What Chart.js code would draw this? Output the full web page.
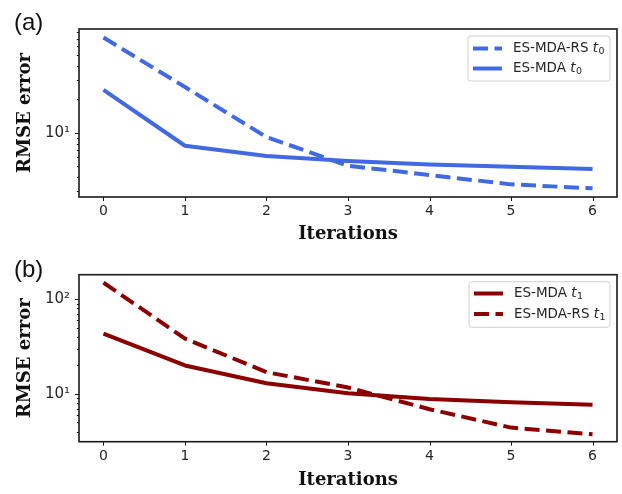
<!DOCTYPE html>
<html>
<head>
<meta charset="utf-8">
<script src="https://cdn.jsdelivr.net/npm/chart.js@4/dist/chart.umd.min.js"></script>
<style>
  html, body { margin: 0; padding: 0; background: #ffffff; }
  #wrap { position: relative; width: 622px; height: 494px; }
  #wrap canvas { position: absolute; left: 0; }
</style>
</head>
<body>
<div id="wrap">
  <canvas id="panelA" width="622" height="247" style="top:0px"></canvas>
  <canvas id="panelB" width="622" height="247" style="top:247px"></canvas>
</div>
<script>
// Iteration index shared by both panels
const iterations = [0, 1, 2, 3, 4, 5, 6];
const xTickValues = [0, 1, 2, 3, 4, 5, 6];

// Panel (a): RMSE at t0
const rmseRsT0  = [72.0, 25.8, 9.15, 5.05, 4.16, 3.43, 3.16];
const rmseMdaT0 = [24.3, 7.64, 6.17, 5.56, 5.19, 4.94, 4.71];

// Panel (b): RMSE at t1
const rmseMdaT1 = [43.5, 20.0, 13.0, 10.2, 8.85, 8.16, 7.70];
const rmseRsT1  = [150, 38.5, 17.0, 11.7, 6.90, 4.41, 3.75];

// Labelled decades on the log axes
const yMajorValues = [10, 100];
const yMajorLabels = ['10¹', '10²'];

const BLUE = '#4169e1';
const DARKRED = '#8b0000';
const DASH = [15, 6.5];

Chart.defaults.font.family = '"DejaVu Sans", sans-serif';
Chart.defaults.color = '#262626';

const toPoints = ys => iterations.map((x, i) => ({ x: x, y: ys[i] }));

function logTicksBetween(min, max) {
  const out = [];
  for (let e = Math.floor(Math.log10(min)); e <= Math.ceil(Math.log10(max)); e++) {
    for (let m = 1; m <= 9; m++) {
      const v = m * Math.pow(10, e);
      if (v >= min && v <= max) out.push(v);
    }
  }
  return out;
}

function isMajor(v) {
  return yMajorValues.some(m => Math.abs(m - v) < 1e-9);
}

// Frame, tick marks, legend box and panel tag
const decorations = {
  id: 'decorations',
  afterDraw(chart, args, opts) {
    const { ctx, chartArea: a } = chart;
    const xs = chart.scales.x, ys = chart.scales.y;
    ctx.save();
    ctx.strokeStyle = '#1a1a1a';
    ctx.lineWidth = 1;
    ctx.setLineDash([]);
    ctx.beginPath();
    xs.ticks.forEach(t => {
      const px = Math.round(xs.getPixelForValue(t.value)) + 0.5;
      ctx.moveTo(px, a.bottom);
      ctx.lineTo(px, a.bottom + 4);
    });
    ys.ticks.forEach(t => {
      const py = Math.round(ys.getPixelForValue(t.value)) + 0.5;
      const len = isMajor(t.value) ? 4 : 2.2;
      ctx.moveTo(a.left - len, py);
      ctx.lineTo(a.left, py);
    });
    ctx.stroke();

    ctx.lineWidth = 1.6;
    ctx.strokeRect(a.left, a.top, a.right - a.left, a.bottom - a.top);

    // legend
    const L = opts.legend;
    ctx.beginPath();
    ctx.roundRect(L.x, L.y, L.w, L.h, 3);
    ctx.fillStyle = 'rgba(255,255,255,0.85)';
    ctx.fill();
    ctx.strokeStyle = '#d0d0d0';
    ctx.lineWidth = 1;
    ctx.stroke();
    L.items.forEach((item, i) => {
      const ds = chart.data.datasets[item.dataset];
      const cy = L.y + L.firstRow + i * L.rowGap;
      ctx.beginPath();
      ctx.strokeStyle = ds.borderColor;
      ctx.lineWidth = 4;
      ctx.lineCap = 'butt';
      ctx.setLineDash(ds.borderDash || []);
      ctx.moveTo(L.x + 5, cy);
      ctx.lineTo(L.x + 34, cy);
      ctx.stroke();
      ctx.setLineDash([]);

      let tx = L.x + 45;
      ctx.fillStyle = '#262626';
      ctx.textBaseline = 'middle';
      ctx.textAlign = 'left';
      ctx.font = '13.5px "DejaVu Sans"';
      ctx.fillText(item.text, tx, cy);
      tx += ctx.measureText(item.text).width;
      ctx.font = 'italic 13.5px "DejaVu Sans"';
      ctx.fillText('t', tx, cy);
      tx += ctx.measureText('t').width;
      ctx.font = '9.5px "DejaVu Sans"';
      ctx.fillText(item.sub, tx + 0.5, cy + 3.5);
    });

    // panel tag
    ctx.fillStyle = '#111111';
    ctx.font = '24px "Liberation Sans", Arial, sans-serif';
    ctx.textBaseline = 'middle';
    ctx.textAlign = 'left';
    ctx.fillText(opts.tag, 14, opts.tagY);
    ctx.restore();
  }
};

function makePanel(canvasId, cfg) {
  return new Chart(document.getElementById(canvasId), {
    type: 'line',
    data: { datasets: cfg.datasets },
    options: {
      responsive: false,
      animation: false,
      devicePixelRatio: 1,
      layout: { padding: { top: cfg.padTop, right: 5, left: 0, bottom: 0 } },
      elements: {
        point: { radius: 0, hoverRadius: 0 },
        line: { tension: 0, borderWidth: 4, borderJoinStyle: 'round', fill: false }
      },
      plugins: {
        legend: { display: false },
        tooltip: { enabled: false },
        decorations: cfg.deco
      },
      scales: {
        x: {
          type: 'linear',
          min: -0.3,
          max: 6.3,
          afterBuildTicks: s => { s.ticks = xTickValues.map(v => ({ value: v })); },
          afterFit: s => { s.height = cfg.xHeight; },
          grid: { display: false, drawTicks: true, tickLength: 4 },
          border: { display: false },
          ticks: {
            autoSkip: false,
            maxRotation: 0,
            padding: 2,
            color: '#262626',
            font: { size: 14 },
            callback: v => String(v)
          },
          title: {
            display: true,
            text: 'Iterations',
            color: '#111111',
            font: { family: '"DejaVu Serif", serif', size: 18, weight: 'bold' },
            padding: { top: 0, bottom: cfg.xTitlePad }
          }
        },
        y: {
          type: 'logarithmic',
          min: cfg.yMin,
          max: cfg.yMax,
          afterBuildTicks: s => { s.ticks = logTicksBetween(cfg.yMin, cfg.yMax).map(v => ({ value: v })); },
          afterFit: s => { s.width = 79; },
          grid: { display: false, drawTicks: true, tickLength: 4 },
          border: { display: false },
          ticks: {
            autoSkip: false,
            padding: 5,
            color: '#262626',
            font: { size: 15 },
            callback: v => {
              const k = yMajorValues.findIndex(m => Math.abs(m - v) < 1e-9);
              return k >= 0 ? yMajorLabels[k] : '';
            }
          },
          title: {
            display: true,
            text: 'RMSE error',
            color: '#111111',
            font: { family: '"DejaVu Serif", serif', size: 18, weight: 'bold' },
            padding: { top: 15, bottom: 0 }
          }
        }
      }
    },
    plugins: [decorations]
  });
}

makePanel('panelA', {
  padTop: 29,
  xHeight: 50,
  xTitlePad: 2,
  yMin: 2.64,
  yMax: 85.9,
  datasets: [
    { label: 'ES-MDA-RS t0', data: toPoints(rmseRsT0), borderColor: BLUE, borderDash: DASH },
    { label: 'ES-MDA t0', data: toPoints(rmseMdaT0), borderColor: BLUE }
  ],
  deco: {
    tag: '(a)',
    tagY: 23,
    legend: {
      x: 468, y: 36, w: 142, h: 45, firstRow: 12.5, rowGap: 20,
      items: [
        { dataset: 0, text: 'ES-MDA-RS ', sub: '0' },
        { dataset: 1, text: 'ES-MDA ', sub: '0' }
      ]
    }
  }
});

makePanel('panelB', {
  padTop: 27.7,
  xHeight: 52.3,
  xTitlePad: 3.2,
  yMin: 3.13,
  yMax: 182,
  datasets: [
    { label: 'ES-MDA t1', data: toPoints(rmseMdaT1), borderColor: DARKRED },
    { label: 'ES-MDA-RS t1', data: toPoints(rmseRsT1), borderColor: DARKRED, borderDash: DASH }
  ],
  deco: {
    tag: '(b)',
    tagY: 23,
    legend: {
      x: 469, y: 34.7, w: 141, h: 45.6, firstRow: 11.8, rowGap: 20.5,
      items: [
        { dataset: 0, text: 'ES-MDA ', sub: '1' },
        { dataset: 1, text: 'ES-MDA-RS ', sub: '1' }
      ]
    }
  }
});
</script>
</body>
</html>
